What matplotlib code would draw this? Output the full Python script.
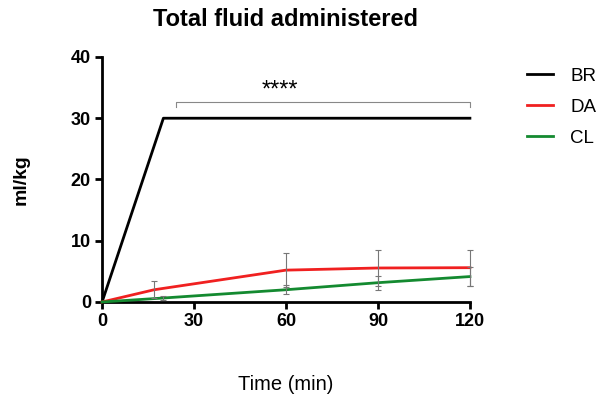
import numpy as np
import matplotlib
matplotlib.use('Agg')
import matplotlib.pyplot as plt

plt.rcParams['font.family'] = ['Liberation Sans', 'DejaVu Sans']

# data
t_br = [0, 20, 120]
br = [0, 30, 30]

t_da = [0, 17, 60, 90, 120]
da = [0, 2.0, 5.2, 5.55, 5.6]
da_sd = [0, 1.4, 2.8, 2.9, 2.95]

t_cl = [0, 20, 60, 90, 120]
cl = [0, 0.65, 2.0, 3.15, 4.15]
cl_sd = [0, 0.3, 0.7, 1.15, 1.6]

fig = plt.figure(figsize=(6.04, 4.04), dpi=100)
ax = fig.add_axes([0.169, 0.2525, 0.609, 0.6065])

ax.plot(t_br, br, color='black', lw=2, label='BR', clip_on=False, zorder=3)
ax.plot(t_da, da, color='#f02020', lw=2, label='DA', clip_on=False, zorder=3)
ax.plot(t_cl, cl, color='#148a30', lw=2, label='CL', clip_on=False, zorder=3)

# error bars
for t, m, sd in [(t_da, da, da_sd), (t_cl, cl, cl_sd)]:
    eb = ax.errorbar(t[1:], m[1:], yerr=sd[1:], fmt='none', ecolor='#777777',
                     elinewidth=0.8, capsize=2.2, capthick=0.8, zorder=4)
    for a in list(eb[1]) + list(eb[2]):
        a.set_clip_on(False)

# significance bracket
ax.plot([24, 24, 120, 120], [31.9, 32.6, 32.6, 31.9], color='#888888', lw=0.8, clip_on=False)
ax.text(58, 34.5, '****', ha='center', va='center', fontsize=17)

ax.set_xlim(0, 120)
ax.set_ylim(0, 40)
ax.set_xticks([0, 30, 60, 90, 120])
ax.set_yticks([0, 10, 20, 30, 40])
for s in ['top', 'right']:
    ax.spines[s].set_visible(False)
for s in ['left', 'bottom']:
    ax.spines[s].set_linewidth(2)
ax.tick_params(width=2, length=5, pad=3, labelsize=13)
for lbl in ax.get_xticklabels() + ax.get_yticklabels():
    lbl.set_fontweight('bold')

ax.set_title('Total fluid administered', fontsize=17, fontweight='bold', pad=22.5)
ax.set_ylabel('ml/kg', fontsize=14, fontweight='bold', labelpad=30)
ax.set_xlabel('Time (min)', fontsize=14.5, labelpad=32)

ax.legend(loc='upper left', bbox_to_anchor=(1.11, 1.026), frameon=False,
          fontsize=13.5, handlelength=1.39, handletextpad=0.9, labelspacing=0.75)

fig.savefig('out.png', dpi=100)
